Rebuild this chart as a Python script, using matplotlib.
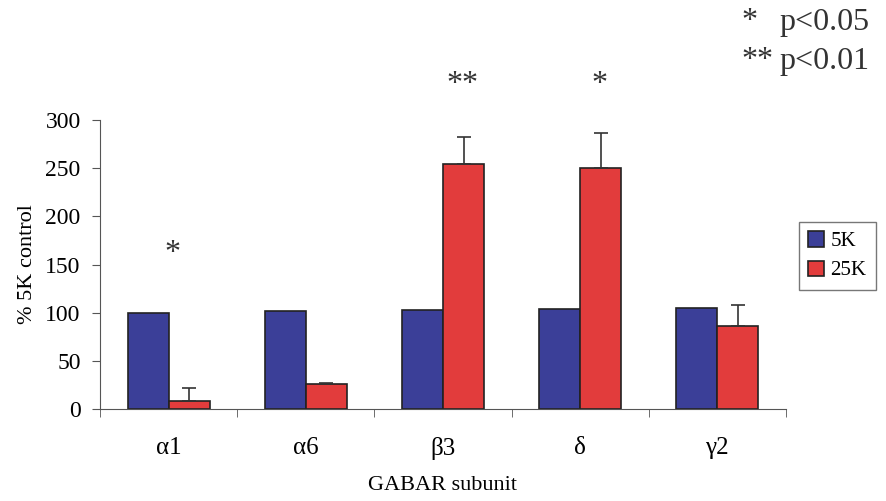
import matplotlib
matplotlib.use("Agg")
import matplotlib.pyplot as plt
import numpy as np

plt.rcParams['font.family'] = ['Liberation Serif', 'DejaVu Serif']

subunits = ['α1', 'α6', 'β3', 'δ', 'γ2']
k5_vals = [100, 102, 103, 104, 105]
k25_vals = [8, 26, 255, 250, 86]
k25_err = [14, 1, 28, 37, 22]
stars = ['*', '', '**', '*', '']
star_y = [161, 0, 337, 337, 0]
star_dx = [0.03, 0, 0.14, 0.14, 0]

fig = plt.figure(figsize=(8.86, 5.01), dpi=100)
ax = fig.add_axes([0.113, 0.184, 0.774, 0.576])

x = np.arange(len(subunits))
w = 0.3
ax.bar(x - w / 2, k5_vals, w, color='#3b3f98', edgecolor='#222222', linewidth=1.2, label='5K')
ax.bar(x + w / 2, k25_vals, w, color='#e23c3c', edgecolor='#222222', linewidth=1.2, label='25K')
ax.errorbar(x + w / 2, k25_vals, yerr=[np.zeros(len(k25_err)), k25_err], fmt='none',
            ecolor='#333333', elinewidth=1.2, capsize=5, capthick=1.2)

for xi, s, sy, dx in zip(x, stars, star_y, star_dx):
    if s:
        ax.text(xi + dx, sy, s, ha='center', va='center', fontsize=23, color='#333333', clip_on=False)

ax.set_xlim(-0.5, len(subunits) - 0.5)
ax.set_ylim(0, 300)
ax.set_yticks(range(0, 301, 50))
ax.set_xticks(x)
ax.set_xticklabels(subunits)
ax.set_xticks(np.arange(-0.5, len(subunits), 1), minor=True)
ax.tick_params(axis='x', which='major', length=0, pad=20, labelsize=18)
ax.tick_params(axis='x', which='minor', length=6, direction='out', color='#555555')
ax.tick_params(axis='y', length=6, direction='out', color='#555555', labelsize=17, pad=8)
for sp in ['top', 'right']:
    ax.spines[sp].set_visible(False)
for sp in ['left', 'bottom']:
    ax.spines[sp].set_color('#555555')
ax.set_xlabel('GABAR subunit', fontsize=16, labelpad=12)
ax.set_ylabel('% 5K control', fontsize=16, labelpad=6)

leg = ax.legend(loc='center left', bbox_to_anchor=(1.01, 0.53), fontsize=15, frameon=True,
                fancybox=False, edgecolor='#555555', handlelength=0.75, handleheight=0.75,
                handletextpad=0.3, borderpad=0.45, labelspacing=0.45, borderaxespad=0.3)
leg.get_frame().set_linewidth(1.0)

fig.text(0.837, 0.958, '*', fontsize=23, ha='left', va='center', color='#333333')
fig.text(0.880, 0.956, 'p<0.05', fontsize=23, ha='left', va='center', color='#333333')
fig.text(0.837, 0.879, '**', fontsize=23, ha='left', va='center', color='#333333')
fig.text(0.880, 0.877, 'p<0.01', fontsize=23, ha='left', va='center', color='#333333')

fig.savefig('out.png', dpi=100)
